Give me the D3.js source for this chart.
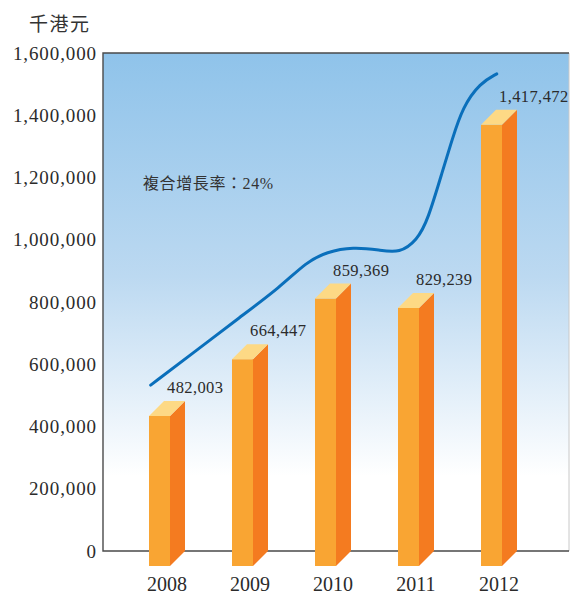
<!DOCTYPE html>
<html>
<head>
<meta charset="utf-8">
<script src="https://cdn.jsdelivr.net/npm/d3@7"></script>
<style>
  body { margin: 0; background: #fff; }
  svg text { font-family: "Liberation Serif", "DejaVu Serif", serif; fill: #2b2b2b; }
</style>
</head>
<body>
<svg width="570" height="596"></svg>
<script>
// values
var years = ["2008", "2009", "2010", "2011", "2012"];
var revenue = [482003, 664447, 859369, 829239, 1417472];
var revenueLabels = ["482,003", "664,447", "859,369", "829,239", "1,417,472"];
var yTicks = [0, 200000, 400000, 600000, 800000, 1000000, 1200000, 1400000, 1600000];
// trend curve, as (year position, value) pairs
var trendPos = [0.02, 0.02, 0.53, 1.10, 1.58, 1.90, 2.14, 2.46, 2.78, 3.02, 3.23, 3.36, 3.54, 3.65, 3.78, 3.99, 4.19, 4.19];
var trendVal = [533000, 533000, 636000, 752000, 848000, 929000, 961000, 977000, 967000, 957000, 999000, 1063000, 1224000, 1320000, 1427000, 1504000, 1533000, 1533000];
var unitLabel = "千港元";
var cagrLabel = "複合增長率：24%";

let plotLeft = 103, plotTop = 53, plotRight = 569, plotBottom = 551;
let barW = 21, depth = 15;

var svg = d3.select("svg");

var y = d3.scaleLinear([0, 1600000], [plotBottom, plotTop]);
var x = d3.scalePoint(years, [149, 481]);
var xPos = d3.scaleLinear([0, 4], [149, 481]);

// background gradient
var grad = svg.append("defs").append("linearGradient")
    .attr("id", "bg").attr("x1", 0).attr("y1", 0).attr("x2", 0).attr("y2", 1);
grad.append("stop").attr("offset", "0%").attr("stop-color", "#8fc3ea");
grad.append("stop").attr("offset", "45%").attr("stop-color", "#bcd9f1");
grad.append("stop").attr("offset", "85%").attr("stop-color", "#ffffff");
grad.append("stop").attr("offset", "100%").attr("stop-color", "#ffffff");

svg.append("rect")
    .attr("x", plotLeft).attr("y", plotTop)
    .attr("width", plotRight - plotLeft).attr("height", plotBottom - plotTop)
    .attr("fill", "url(#bg)");

// frame
svg.append("line").attr("x1", plotRight).attr("x2", plotRight).attr("y1", plotTop).attr("y2", plotBottom)
    .attr("stroke", "#c8c8c8").attr("stroke-width", 1);
svg.append("path")
    .attr("d", "M" + plotRight + "," + plotTop + "H" + plotLeft + "V" + plotBottom + "H" + plotRight)
    .attr("fill", "none").attr("stroke", "#4a4a4a").attr("stroke-width", 1.4);

// y axis labels
var yAxis = d3.axisLeft(y).tickValues(yTicks).tickSize(0).tickPadding(6)
    .tickFormat(function(d) { return d == 0 ? "0" : d3.format(",")(d); });
var ax = svg.append("g")
    .attr("transform", "translate(" + plotLeft + ",0)")
    .call(yAxis);
ax.select(".domain").remove();
ax.selectAll("text")
    .attr("font-size", 19)
    .attr("letter-spacing", 0.9)
    .attr("font-family", "Liberation Serif")
    .attr("fill", "#2b2b2b");

// bars (front, side, top)
var bars = svg.append("g").selectAll("g")
    .data(years)
    .enter()
        .append("g");

bars.append("rect")
    .attr("x", function(d) { return x(d); })
    .attr("y", function(d, i) { return y(revenue[i]) + depth; })
    .attr("width", barW)
    .attr("height", function(d, i) { return y(0) - y(revenue[i]); })
    .attr("fill", "#f9a533");

bars.append("path")
    .attr("d", function(d, i) {
        var x1 = x(d) + barW, t = y(revenue[i]) + depth, b = y(0) + depth;
        return "M" + x1 + "," + t + "L" + (x1 + depth) + "," + (t - depth) +
            "L" + (x1 + depth) + "," + (b - depth) + "L" + x1 + "," + b + "Z";
    })
    .attr("fill", "#f47b20");

bars.append("path")
    .attr("d", function(d, i) {
        var x0 = x(d), x1 = x(d) + barW, t = y(revenue[i]) + depth;
        return "M" + x0 + "," + t + "L" + (x0 + depth) + "," + (t - depth) +
            "L" + (x1 + depth) + "," + (t - depth) + "L" + x1 + "," + t + "Z";
    })
    .attr("fill", "#fdd985");

// value labels
bars.append("text")
    .attr("x", function(d) { return x(d) + barW - 3; })
    .attr("y", function(d, i) { return y(revenue[i]) - 8; })
    .attr("font-size", 16.5)
    .attr("letter-spacing", 0.4)
    .text(function(d, i) { return revenueLabels[i]; });

// year labels
bars.append("text")
    .attr("x", function(d) { return x(d) + (barW + depth) / 2; })
    .attr("y", 591)
    .attr("text-anchor", "middle")
    .attr("font-size", 20)
    .text(function(d) { return d; });

// trend curve
var line = d3.line()
    .x(function(d, i) { return xPos(trendPos[i]); })
    .y(function(d, i) { return y(trendVal[i]); })
    .curve(d3.curveBasis);

svg.append("path")
    .datum(trendPos)
    .attr("d", line)
    .attr("fill", "none")
    .attr("stroke", "#0a6fbb")
    .attr("stroke-width", 3)
    .attr("stroke-linecap", "round");

// texts
svg.append("text")
    .attr("x", 29).attr("y", 31)
    .attr("font-size", 19)
    .attr("letter-spacing", 1.5)
    .style("font-family", "'Noto Sans CJK TC', sans-serif")
    .style("fill", "#333")
    .text(unitLabel);

svg.append("text")
    .attr("x", 143).attr("y", 189)
    .attr("font-size", 16)
    .attr("letter-spacing", 0.6)
    .style("font-family", "'Liberation Serif', 'Noto Sans CJK TC', serif")
    .style("fill", "#333")
    .text(cagrLabel);
</script>
</body>
</html>
